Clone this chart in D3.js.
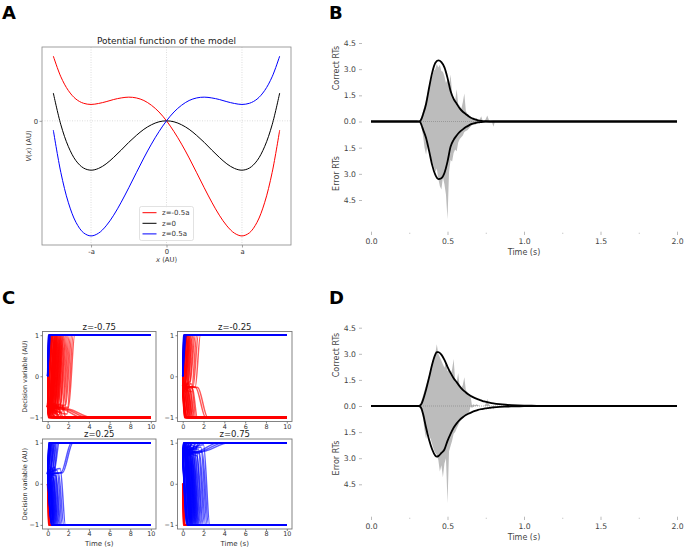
<!DOCTYPE html>
<html><head><meta charset="utf-8">
<script src="https://cdn.jsdelivr.net/npm/d3@7"></script>
<style>body{margin:0;background:#fff}svg{display:block}text{font-family:"DejaVu Sans",sans-serif}</style>
</head><body>
<svg id="chart" width="685" height="549"></svg>
<script>
// ---------------- DATA ----------------
// Panel A: potential function
const potX = [-1.5,-1.4,-1.3,-1.2,-1.1,-1.0,-0.9,-0.8,-0.7,-0.6,-0.5,-0.4,-0.3,-0.2,-0.1,0,0.1,0.2,0.3,0.4,0.5,0.6,0.7,0.8,0.9,1.0,1.1,1.2,1.3,1.4,1.5];
const potRed = [0.328,0.223,0.153,0.110,0.089,0.083,0.088,0.097,0.108,0.116,0.120,0.116,0.103,0.079,0.045,0,-0.055,-0.118,-0.188,-0.263,-0.339,-0.412,-0.478,-0.532,-0.569,-0.583,-0.567,-0.514,-0.415,-0.262,-0.047];
const potBlack = [0.141,-0.020,-0.131,-0.202,-0.239,-0.250,-0.241,-0.218,-0.185,-0.148,-0.109,-0.074,-0.043,-0.020,-0.005,0,-0.005,-0.020,-0.043,-0.074,-0.109,-0.148,-0.185,-0.218,-0.241,-0.250,-0.239,-0.202,-0.131,-0.020,0.141];
const potBlue = [-0.047,-0.262,-0.415,-0.514,-0.567,-0.583,-0.569,-0.532,-0.478,-0.412,-0.339,-0.263,-0.188,-0.118,-0.055,0,0.045,0.079,0.103,0.116,0.120,0.116,0.108,0.097,0.088,0.083,0.089,0.110,0.153,0.223,0.328];
const potNames = ["z=-0.5a","z=0","z=0.5a"];
const potTicks = [-1,0,1];
const potTickLabels = ["-a","0","a"];

// Panels B and D: RT distributions
const rtBinT = [0.31,0.32,0.33,0.34,0.35,0.36,0.37,0.38,0.39,0.40,0.41,0.42,0.43,0.44,0.45,0.46,0.47,0.48,0.49,0.50,0.51,0.52,0.53,0.54,0.55,0.56,0.57,0.58,0.59,0.60,0.61,0.62,0.63,0.64,0.65,0.66,0.67,0.68,0.69,0.70,0.71,0.72,0.73,0.74,0.75,0.76,0.77,0.78,0.79,0.80,0.81,0.82];
const bDataCorrect = [0,0.1,0.3,0.6,0.9,1.3,1.6,2.0,2.3,2.6,2.9,3.0,3.3,3.1,3.25,2.9,2.85,2.6,2.2,2.4,2.0,2.7,1.6,1.3,1.2,1.85,1.0,0.9,0.7,1.1,1.6,0.6,0.45,0.35,0.3,0.15,0.25,0.1,0.2,0.05,0.1,0.3,0.05,0,0.15,0.35,0.1,0,0,0,0,0];
const bDataError = [0,0.1,0.35,0.8,1.5,1.9,1.3,1.6,2.0,2.3,2.6,2.9,2.7,3.3,3.7,3.9,3.2,3.6,4.2,5.6,2.9,2.2,2.3,1.8,1.6,1.7,1.2,1.0,0.9,0.8,0.6,0.55,0.5,0.4,0.3,0.2,0.15,0.2,0.1,0.05,0.1,0.05,0,0,0,0,0,0,0,0.3,0,0];
const bFitT = [0,0.30,0.32,0.33,0.34,0.36,0.38,0.40,0.42,0.44,0.46,0.48,0.50,0.52,0.54,0.56,0.58,0.60,0.62,0.64,0.66,0.68,0.70,0.72,0.75,0.80,2.0];
const bFitCorrect = [0,0,0.02,0.15,0.4,1.0,1.95,2.8,3.35,3.5,3.4,3.1,2.5,1.75,1.3,1.02,0.75,0.56,0.42,0.29,0.19,0.12,0.07,0.04,0.015,0,0];
const bFitError = [0,0,0.02,0.2,0.45,0.95,1.7,2.5,3.05,3.3,3.25,2.95,2.3,1.45,1.05,0.8,0.6,0.45,0.32,0.22,0.14,0.09,0.05,0.03,0.01,0,0];
const dDataCorrect = [0,0.1,0.3,0.6,0.9,1.2,1.5,1.8,2.1,2.5,2.8,3.0,3.55,3.0,2.8,2.6,2.4,2.2,2.5,2.0,2.1,1.8,2.1,2.7,1.5,1.4,1.9,1.1,1.0,1.2,1.65,0.9,0.8,0.7,0.6,0.05,0.1,0.05,0.1,0.05,0,0,0,0,0.15,0.4,0.1,0,0,0,0,0];
const dDataError = [0,0.1,0.3,0.7,1.4,1.9,1.4,1.7,1.9,2.2,2.5,2.7,2.8,3.1,3.77,3.4,4.1,3.3,3.0,5.6,2.6,2.3,2.0,1.6,1.5,1.3,1.1,0.9,0.8,0.7,0.6,0.5,0.45,0.4,0.05,0.1,0.05,0,0,0,0,0,0,0,0,0,0,0,0,0.2,0,0];
const dFitT = [0,0.31,0.32,0.33,0.34,0.36,0.38,0.40,0.42,0.43,0.44,0.46,0.48,0.50,0.52,0.54,0.56,0.58,0.60,0.62,0.64,0.66,0.68,0.70,0.72,0.74,0.76,0.78,0.80,0.84,0.88,0.92,0.96,1.0,1.05,1.1,1.2,2.0];
const dFitCorrect = [0,0,0.03,0.12,0.35,0.95,1.65,2.4,2.95,3.1,3.1,2.95,2.65,2.25,1.9,1.6,1.37,1.13,0.93,0.78,0.65,0.54,0.45,0.38,0.32,0.26,0.22,0.18,0.15,0.105,0.073,0.05,0.035,0.024,0.015,0.01,0,0];
const dFitError = [0,0,0.03,0.15,0.45,1.25,1.95,2.5,2.85,2.91,2.88,2.7,2.5,2.0,1.6,1.25,1.0,0.8,0.65,0.52,0.43,0.35,0.28,0.22,0.18,0.15,0.12,0.1,0.08,0.05,0.035,0.025,0.017,0.01,0.006,0.003,0,0];
const rtYTicks = [4.5,3,1.5,0,-1.5,-3,-4.5];
const rtXTicks = [0,0.5,1,1.5,2];
const rtXMinor = [0.25,0.75,1.25,1.75];

// Panel C: decision variable trajectories
const cTitles = ["z=-0.75","z=-0.25","z=0.25","z=0.75"];
const cStart = [-0.75,-0.25,0.25,0.75];
const cPlateau = [-0.8,-0.27,0.27,0.8];
const cMainColor = ["red","red","blue","blue"];
// arrival times (s) of trajectories that cross the barrier
const cFarT = [
  [0.08,0.1,0.12,0.14,0.16,0.18,0.2,0.22,0.24,0.26,0.28,0.3,0.32,0.34,0.36,0.38,0.4,0.42,0.44,0.46,0.48,0.5,0.52,0.54,0.56,0.58,0.6,0.62,0.64,0.66,0.68,0.7,0.72,0.74,0.76,0.78,0.8,0.82,0.84,0.86,0.88,0.9,0.92,0.94,0.96,0.98,1.0,1.03,1.06,1.09,1.12,1.15,1.18,1.21,1.24,1.27,1.3,1.33,1.36,1.4,1.44,1.48,1.52,1.57,1.62,1.7,1.78,1.88,1.98,2.1,2.22,2.35,2.48,2.62],
  [0.1,0.115,0.13,0.145,0.16,0.175,0.19,0.205,0.22,0.235,0.25,0.265,0.28,0.3,0.32,0.34,0.36,0.38,0.4,0.42,0.44,0.46,0.48,0.5,0.52,0.55,0.58,0.61,0.64,0.68,0.72,0.76,0.8,0.86,0.93,1.0,1.1,1.22,1.35,1.5,1.7],
  [0.35,0.37,0.39,0.41,0.43,0.45,0.47,0.49,0.51,0.53,0.55,0.57,0.59,0.61,0.63,0.65,0.68,0.71,0.74,0.78,0.82,0.86,0.9,0.95,1.0,1.06,1.13,1.2,1.3,1.42,1.56,1.72],
  [0.4,0.42,0.44,0.46,0.48,0.5,0.52,0.54,0.56,0.58,0.6,0.62,0.64,0.66,0.68,0.7,0.72,0.74,0.76,0.78,0.8,0.82,0.84,0.86,0.88,0.9,0.92,0.94,0.96,0.98,1.0,1.03,1.06,1.09,1.12,1.15,1.18,1.21,1.24,1.27,1.3,1.33,1.36,1.4,1.44,1.48,1.52,1.57,1.62,1.7,1.78,1.88,1.98,2.1,2.22,2.35,2.48,2.6]
];
// arrival times (s) of trajectories that fall into the nearby well
const cNearT = [
  [0.06,0.08,0.1,0.12,0.15,0.18,0.21,0.24,0.27,0.3,0.34,0.38,0.43,0.48,0.54,0.6,0.67,0.75,0.84,0.94,1.05,1.18,1.32,1.5,1.75],
  [0.15,0.17,0.19,0.21,0.23,0.25,0.27,0.29,0.31,0.33,0.36,0.39,0.42,0.45,0.48,0.52,0.56,0.6,0.64,0.68,0.72,0.77,0.82,0.88,0.94,1.0,1.08,1.17,1.27,1.4],
  [0.1,0.115,0.13,0.145,0.16,0.175,0.19,0.205,0.22,0.24,0.26,0.28,0.3,0.33,0.36,0.39,0.42,0.45,0.48,0.52,0.56,0.6,0.65,0.7,0.76,0.82,0.9,1.0,1.12],
  [0.06,0.08,0.1,0.12,0.15,0.18,0.21,0.24,0.27,0.3,0.34,0.38,0.43,0.48,0.54,0.6,0.67,0.75,0.84,0.94,1.05,1.18,1.32,1.5,1.75]
];
// slow trajectories: [leave plateau, arrive]
const cSlow = [
  [[1.5,3.3],[1.8,3.8],[2.1,4.2]],
  [[1.25,2.2],[1.45,2.4]],
  [[1.3,2.3],[1.45,2.45]],
  [[1.6,3.4],[1.9,3.9],[2.2,4.4]]
];
// trajectories of the other colour starting at 0
const cQuickT = [
  [0.04,0.06,0.08,0.1,0.12,0.14,0.16,0.19,0.22,0.26,0.3,0.34],
  [0.05,0.07,0.09,0.11,0.14,0.17,0.2,0.23,0.26,0.3,0.35,0.4],
  [0.06,0.08,0.1,0.13,0.16,0.19,0.22,0.26,0.3,0.35,0.4,0.46],
  [0.04,0.06,0.08,0.1,0.12,0.14,0.16,0.19,0.22,0.26,0.3]
];
// spread of the plateau level between trajectories (fraction of cSpread)
const cJitter = [0,-0.6,0.8,-0.3,0.5,-0.9,0.2,0.9,-0.5,0.4,-0.1,0.7,-0.8,0.3,-0.4,0.6,-0.2,1.0,-0.7,0.1];
const cSpread = [0.15,0.15,0.15,0.15];
const cXTicks = [0,2,4,6,8,10];
const cYTicks = [-1,0,1];
const cYTickLabels = ["\u22121","0","1"];

// ---------------- DRAWING ----------------
const svg = d3.select("#chart");
const FONT = "DejaVu Sans, sans-serif";
const defs = svg.append("defs");

function styleAxis(g, fs, tickCol, textCol){
  g.attr("font-family", FONT).attr("font-size", fs);
  g.select(".domain").remove();
  g.selectAll(".tick line").attr("stroke", tickCol).attr("stroke-width", 0.8);
  g.selectAll(".tick text").attr("fill", textCol);
}

// Panel letters
const letters = [["A",2,19],["B",329,19],["C",2,304],["D",329,304]];
svg.selectAll("text.letter").data(letters).join("text").attr("class","letter")
  .attr("x", d=>d[1]).attr("y", d=>d[2]).text(d=>d[0])
  .attr("font-family", FONT).attr("font-weight","bold").attr("font-size",18).attr("fill","#000");

// ---- Panel A ----
(function(){
  const L=42,R=291,T=47,B=245;
  const x=d3.scaleLinear().domain([-1.65,1.65]).range([L,R]);
  const y=d3.scaleLinear().domain([-0.629,0.374]).range([B,T]);
  const g=svg.append("g");
  g.selectAll("line.gx").data(potTicks).join("line").attr("class","gx")
    .attr("x1",d=>x(d)).attr("x2",d=>x(d)).attr("y1",T).attr("y2",B)
    .attr("stroke","#cfcfcf").attr("stroke-width",0.7).attr("stroke-dasharray","1,1.5");
  g.append("line").attr("x1",L).attr("x2",R).attr("y1",y(0)).attr("y2",y(0))
    .attr("stroke","#cfcfcf").attr("stroke-width",0.7).attr("stroke-dasharray","1,1.5");
  const series=[[potRed,"#ff0000"],[potBlack,"#000000"],[potBlue,"#0000ff"]];
  const line=d3.line().x((d,i)=>x(potX[i])).y(d=>y(d)).curve(d3.curveCatmullRom);
  series.forEach(([vals,col])=>{
    g.append("path").datum(vals).attr("d",line).attr("fill","none").attr("stroke",col).attr("stroke-width",1);
  });
  g.append("rect").attr("x",L).attr("y",T).attr("width",R-L).attr("height",B-T)
    .attr("fill","none").attr("stroke","#888").attr("stroke-width",0.8);
  const gx=g.append("g").attr("transform",`translate(0,${B})`)
    .call(d3.axisBottom(x).tickValues(potTicks).tickFormat((d,i)=>potTickLabels[i]).tickSize(2.5).tickPadding(1.5));
  styleAxis(gx,6.8,"#888","#333");
  const gy=g.append("g").attr("transform",`translate(${L},0)`)
    .call(d3.axisLeft(y).tickValues([0]).tickFormat(d3.format("d")).tickSize(2.5).tickPadding(1.5));
  styleAxis(gy,6.8,"#888","#333");
  g.append("text").attr("x",(L+R)/2).attr("y",44).attr("text-anchor","middle")
    .attr("font-size",9).attr("fill","#222").attr("font-family",FONT).text("Potential function of the model");
  const xl=g.append("text").attr("x",(L+R)/2).attr("y",262).attr("text-anchor","middle")
    .attr("font-size",6.8).attr("fill","#333").attr("font-family",FONT);
  xl.append("tspan").attr("font-style","italic").text("x");
  xl.append("tspan").text(" (AU)");
  const yl=g.append("text").attr("transform",`translate(31,${(T+B)/2}) rotate(-90)`).attr("text-anchor","middle")
    .attr("font-size",6.8).attr("fill","#333").attr("font-family",FONT);
  yl.append("tspan").attr("font-style","italic").text("V");
  yl.append("tspan").text("(");
  yl.append("tspan").attr("font-style","italic").text("x");
  yl.append("tspan").text(") (AU)");
  // legend
  const lg=g.append("g");
  lg.append("rect").attr("x",139.5).attr("y",206.5).attr("width",54).attr("height",34).attr("rx",2)
    .attr("fill","#fff").attr("fill-opacity",0.85).attr("stroke","#d5d5d5").attr("stroke-width",0.7);
  series.forEach(([vals,col],i)=>{
    const yy=212.7+i*10.6;
    lg.append("line").attr("x1",142.5).attr("x2",156.5).attr("y1",yy).attr("y2",yy).attr("stroke",col).attr("stroke-width",1);
    lg.append("text").attr("x",162).attr("y",yy).attr("dy","0.35em").attr("font-size",7).attr("fill","#333")
      .attr("font-family",FONT).text(potNames[i]);
  });
})();

// ---- Panels B & D ----
function drawRT(cfg){
  const x=d3.scaleLinear().domain([0,2]).range([371,677]);
  const y=d3.scaleLinear().domain([-4.5,4.5]).range([cfg.yLow,cfg.yHigh]);
  defs.append("clipPath").attr("id",cfg.id).append("rect")
    .attr("x",300).attr("y",cfg.clipTop).attr("width",385).attr("height",cfg.clipBottom-cfg.clipTop);
  const g=svg.append("g").attr("clip-path",`url(#${cfg.id})`);
  const area=d3.area().x((d,i)=>x(rtBinT[i])).y0(d=>y(-d[1])).y1(d=>y(d[0]));
  g.append("path").datum(cfg.dataC.map((v,i)=>[v,cfg.dataE[i]])).attr("d",area).attr("fill","#bcbcbc");
  g.append("line").attr("x1",x(0)).attr("x2",x(2)).attr("y1",y(0)).attr("y2",y(0))
    .attr("stroke","#8a8a8a").attr("stroke-width",0.7).attr("stroke-dasharray","1,1");
  const line=d3.line().x(d=>x(d[0])).y(d=>y(d[1])).curve(d3.curveMonotoneX);
  g.append("path").datum(cfg.fitT.map((t,i)=>[t,cfg.fitC[i]])).attr("d",line)
    .attr("fill","none").attr("stroke","#000").attr("stroke-width",1.8);
  g.append("path").datum(cfg.fitT.map((t,i)=>[t,-cfg.fitE[i]])).attr("d",line)
    .attr("fill","none").attr("stroke","#000").attr("stroke-width",1.8);
  const gx=g.append("g").attr("transform",`translate(0,${cfg.xAxisY})`)
    .call(d3.axisBottom(x).tickValues(rtXTicks).tickFormat(d3.format(".1f")).tickSize(3.3).tickPadding(3.3));
  styleAxis(gx,7.7,"#aaa","#444");
  const gm=g.append("g").attr("transform",`translate(0,${cfg.xAxisY+1})`)
    .call(d3.axisBottom(x).tickValues(rtXMinor).tickFormat("").tickSize(1.3));
  styleAxis(gm,7.7,"#bbb","#444");
  const gy=g.append("g").attr("transform","translate(362,0)")
    .call(d3.axisLeft(y).tickValues(rtYTicks).tickFormat(d=>Math.abs(d).toFixed(1)).tickSize(3).tickPadding(3));
  styleAxis(gy,7.7,"#aaa","#444");
  g.append("text").attr("transform",`translate(336,${cfg.corrY}) rotate(-90)`).attr("text-anchor","middle")
    .attr("dy","0.35em").attr("font-size",8).attr("fill","#444").attr("font-family",FONT).text("Correct RTs");
  g.append("text").attr("transform",`translate(336,${cfg.errY}) rotate(-90)`).attr("text-anchor","middle")
    .attr("dy","0.35em").attr("font-size",8).attr("fill","#444").attr("font-family",FONT).text("Error RTs");
  g.append("text").attr("x",(x(0)+x(2))/2).attr("y",cfg.timeY).attr("text-anchor","middle")
    .attr("font-size",8).attr("fill","#444").attr("font-family",FONT).text("Time (s)");
}
drawRT({id:"clipB",yHigh:43,yLow:200,clipTop:0,clipBottom:256,xAxisY:231.7,corrY:68,errY:173.5,timeY:255,
  dataC:bDataCorrect,dataE:bDataError,fitT:bFitT,fitC:bFitCorrect,fitE:bFitError});
drawRT({id:"clipD",yHigh:327.7,yLow:484.3,clipTop:285,clipBottom:540.5,xAxisY:516.7,corrY:355,errY:458,timeY:540,
  dataC:dDataCorrect,dataE:dDataError,fitT:dFitT,fitC:dFitCorrect,fitE:dFitError});

// ---- Panel C ----
(function(){
  const boxX=[[42.5,156],[177.5,292]], boxY=[[331.5,421.5],[439,529]];
  const farDur=[0.6,0.5,0.5,0.6], nearDur=[0.35,0.45,0.45,0.35];
  function traj(s,p,T,target,dur){
    const pts=[[0,s]];
    const D=T-dur;
    if(D>0.03) pts.push([D,p]);
    pts.push([T,target]); pts.push([10,target]);
    return pts;
  }
  cTitles.forEach((title,i)=>{
    const col=i%2,row=Math.floor(i/2);
    const [L,R]=boxX[col],[T,B]=boxY[row];
    const x=d3.scaleLinear().domain([-0.5,10.5]).range([L,R]);
    const y=d3.scaleLinear().domain([-1.1,1.09]).range([B,T]);
    defs.append("clipPath").attr("id","cc"+i).append("rect").attr("x",L).attr("y",T).attr("width",R-L).attr("height",B-T);
    const g=svg.append("g");
    const lg=g.append("g").attr("clip-path",`url(#cc${i})`);
    const s=cStart[i],far=s<0?1:-1,near=-far;
    const plat=k=>cPlateau[i]+cJitter[k%cJitter.length]*cSpread[i];
    const main=[],quick=[];
    cFarT[i].forEach((t,k)=>main.push(traj(s,plat(k),t,far,farDur[i])));
    cNearT[i].forEach((t,k)=>main.push(traj(s,plat(k+7),t,near,nearDur[i])));
    cSlow[i].forEach(([a,e])=>main.push([[0,s],[a,cPlateau[i]],[e,near],[10,near]]));
    cQuickT[i].forEach(t=>quick.push([[0,0],[t,far],[10,far]]));
    const groups=cMainColor[i]==="red"?[[main,"#ff0000"],[quick,"#0000ff"]]:[[quick,"#ff0000"],[main,"#0000ff"]];
    const line=d3.line().x(d=>x(d[0])).y(d=>y(d[1])).curve(d3.curveMonotoneX);
    groups.forEach(([arr,colr])=>{
      lg.append("g").selectAll("path").data(arr).join("path").attr("d",line)
        .attr("fill","none").attr("stroke",colr).attr("stroke-width",1.5).attr("stroke-opacity",0.65);
    });
    g.append("rect").attr("x",L).attr("y",T).attr("width",R-L).attr("height",B-T)
      .attr("fill","none").attr("stroke","#777").attr("stroke-width",0.9);
    const gx=g.append("g").attr("transform",`translate(0,${B})`)
      .call(d3.axisBottom(x).tickValues(cXTicks).tickSize(2).tickPadding(0.6));
    styleAxis(gx,6.4,"#666","#333");
    const gy=g.append("g").attr("transform",`translate(${L},0)`)
      .call(d3.axisLeft(y).tickValues(cYTicks).tickFormat((d,k)=>cYTickLabels[k]).tickSize(2).tickPadding(1.5));
    styleAxis(gy,6.4,"#666","#333");
    g.append("text").attr("x",(L+R)/2).attr("y",T-2).attr("text-anchor","middle")
      .attr("font-size",8.5).attr("fill","#222").attr("font-family",FONT).text(title);
    if(col===0){
      g.append("text").attr("transform",`translate(25,${(T+B)/2}) rotate(-90)`).attr("text-anchor","middle")
        .attr("dy","0.35em").attr("font-size",6.5).attr("fill","#333").attr("font-family",FONT).text("Decision variable (AU)");
    }
    if(row===1){
      g.append("text").attr("x",(L+R)/2).attr("y",546).attr("text-anchor","middle")
        .attr("font-size",7).attr("fill","#333").attr("font-family",FONT).text("Time (s)");
    }
  });
})();
</script>
</body></html>
